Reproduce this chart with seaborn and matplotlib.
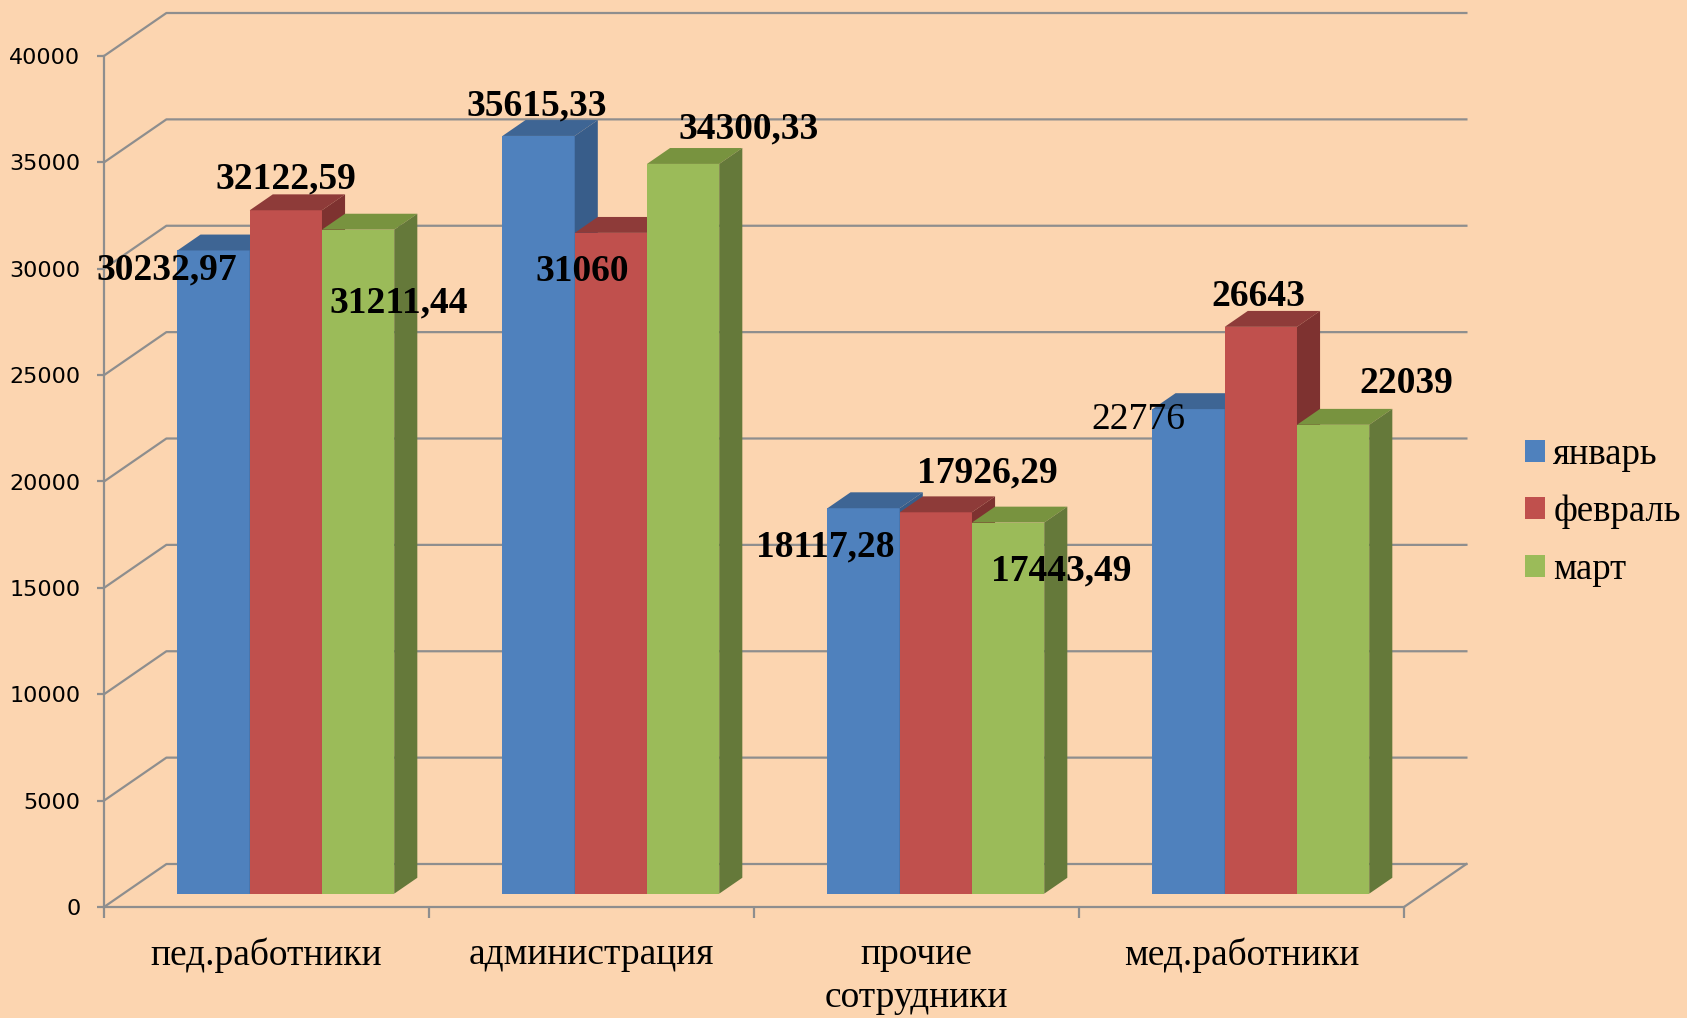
import numpy as np
import pandas as pd
import matplotlib
matplotlib.use('Agg')
import matplotlib.pyplot as plt
import seaborn as sns
from matplotlib.patches import Polygon, Patch

# data
categories = ['пед.работники', 'администрация', 'прочие\nсотрудники', 'мед.работники']
months = ['январь', 'февраль', 'март']
jan = [30232.97, 35615.33, 18117.28, 22776]
feb = [32122.59, 31060, 17926.29, 26643]
mar = [31211.44, 34300.33, 17443.49, 22039]

# label placement (pixels from front top centre of each bar), per category -> month
label_offsets = [
    [(-47, -20), (0, 31), (41, -73)],
    [(-2, 30), (-29, -39), (65, 35)],
    [(-38, -39), (52, 39), (53, -48)],
    [(-50, -11), (-3, 30), (73, 41)],
]
label_bold = [
    [True, True, True],
    [True, True, True],
    [True, True, True],
    [False, True, True],
]

BG = '#FCD5B0'
GRID = '#8E8E8E'
front = {'январь': '#4F81BD', 'февраль': '#C0504D', 'март': '#9BBB59'}
top = ['#3E6594', '#8E3B39', '#78933F']
side = ['#385D8A', '#7E3230', '#65793A']

# pseudo 3d depth: back wall offset in data units
DX = 0.192
DY = 2021
F = 0.31   # depth of bar front face
D = 0.37   # bar depth

df = pd.DataFrame({
    'category': categories * 3,
    'month': np.repeat(months, len(categories)),
    'value': jan + feb + mar,
})

plt.rcParams['font.family'] = ['DejaVu Sans']

fig = plt.figure(figsize=(16.87, 10.18), dpi=100, facecolor=BG)
ax = fig.add_axes([104 / 1687, 111 / 1018, (1404 - 104) / 1687, (907 - 56) / 1018])
ax.set_facecolor(BG)

sns.barplot(data=df, x='category', y='value', hue='month', order=categories,
            hue_order=months, palette=front, width=0.667, saturation=1,
            errorbar=None, legend=False, linewidth=0, ax=ax)

# back wall grid
for v in range(0, 40001, 5000):
    ax.plot([-0.5, -0.5 + DX, 3.5 + DX], [v, v + DY, v + DY], color=GRID,
            lw=1.6, clip_on=False, zorder=1)
ax.plot([3.5, 3.5 + DX], [0, DY], color=GRID, lw=1.6, clip_on=False, zorder=1)

# 3d faces
bars = sorted(ax.patches, key=lambda p: p.get_x())
for i, bar in enumerate(bars):
    c, m = i // 3, i % 3
    bar.set_x(bar.get_x() + F * DX)
    bar.set_y(F * DY)
    z = 3 + i * 0.1
    bar.set_zorder(z)
    bar.set_clip_on(False)
    x0, y0 = bar.get_x(), bar.get_y()
    x1, y1 = x0 + bar.get_width(), y0 + bar.get_height()
    dx, dy = D * DX, D * DY
    ax.add_patch(Polygon([(x0, y1), (x1, y1), (x1 + dx, y1 + dy), (x0 + dx, y1 + dy)],
                         closed=True, facecolor=top[m], lw=0, zorder=z + 0.01, clip_on=False))
    ax.add_patch(Polygon([(x1, y0), (x1, y1), (x1 + dx, y1 + dy), (x1 + dx, y0 + dy)],
                         closed=True, facecolor=side[m], lw=0, zorder=z + 0.01, clip_on=False))
    val = bar.get_height()
    txt = f'{val:.2f}'.replace('.', ',')
    if txt.endswith(',00'):
        txt = txt[:-3]
    ax.annotate(txt, xy=((x0 + x1) / 2, y1), xytext=label_offsets[c][m],
                textcoords='offset pixels', ha='center', va='center', fontsize=27,
                fontweight='bold' if label_bold[c][m] else 'normal',
                family='Liberation Serif', zorder=10, annotation_clip=False)

ax.set_xlim(-0.5, 3.5)
ax.set_ylim(0, 40000)
ax.set_xlabel('')
ax.set_ylabel('')

for s in ['top', 'right']:
    ax.spines[s].set_visible(False)
for s in ['left', 'bottom']:
    ax.spines[s].set_color(GRID)
    ax.spines[s].set_linewidth(1.6)

ax.set_yticks(range(0, 40001, 5000))
ax.tick_params(axis='y', length=5, width=1.6, color=GRID, labelsize=16, pad=12)
ax.set_xticks([-0.5, 0.5, 1.5, 2.5, 3.5])
ax.set_xticklabels([''] * 5)
ax.tick_params(axis='x', which='major', length=8, width=1.6, color=GRID)
ax.set_xticks(range(4), minor=True)
ax.set_xticklabels(categories, minor=True, fontsize=27, family='Liberation Serif')
for t in ax.get_xticklabels(minor=True):
    t.set_linespacing(1.3)
ax.tick_params(axis='x', which='minor', length=0, pad=22)

handles = [Patch(facecolor=front[m], label=m) for m in months]
ax.legend(handles=handles, loc='center left', bbox_to_anchor=(1525 / 1687, 0.497),
          bbox_transform=fig.transFigure, frameon=False, borderpad=0, borderaxespad=0,
          handlelength=0.55, handleheight=0.55, handletextpad=0.22, labelspacing=0.62,
          prop={'family': 'Liberation Serif', 'size': 26.5})

fig.savefig('out.png', dpi=100, facecolor=BG)
plt.close(fig)
